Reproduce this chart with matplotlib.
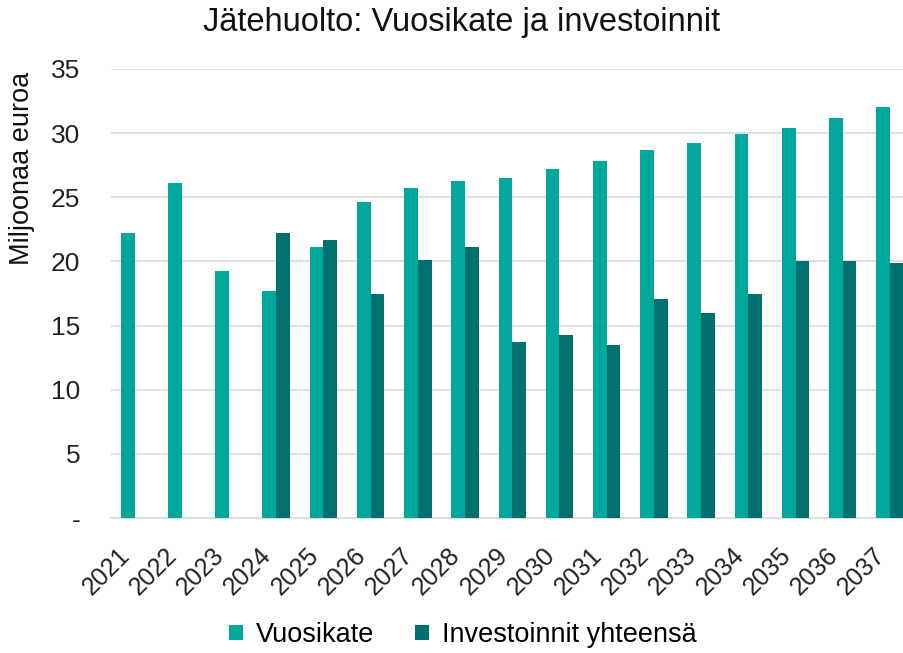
import numpy as np
import matplotlib
matplotlib.use('Agg')
from matplotlib import pyplot as plt

plt.rcParams['font.family'] = ['Liberation Sans', 'DejaVu Sans']

years = ['2021', '2022', '2023', '2024', '2025', '2026', '2027', '2028', '2029',
         '2030', '2031', '2032', '2033', '2034', '2035', '2036', '2037']
vuosikate = [22.2, 26.1, 19.25, 17.7, 21.1, 24.6, 25.7, 26.3, 26.5,
             27.2, 27.8, 28.7, 29.2, 29.9, 30.4, 31.2, 32.0]
investoinnit = [0, 0, 0, 22.2, 21.7, 17.5, 20.1, 21.1, 13.7,
                14.3, 13.5, 17.1, 16.0, 17.5, 20.0, 20.0, 19.9]
yticks = [0, 5, 10, 15, 20, 25, 30, 35]
ytick_labels = ['-', '5', '10', '15', '20', '25', '30', '35']

c_v = '#00A79D'
c_i = '#00716F'

fig = plt.figure(figsize=(9.04, 6.53), dpi=100)
# axes run a bit past the right edge, like the cropped original
ax = fig.add_axes([110.9/904, 135/653, 802.7/904, 449/653])

x = np.arange(len(years))
w = 0.29
ax.bar(x - w/2, vuosikate, w, color=c_v, label='Vuosikate', zorder=3)
ax.bar(x + w/2, investoinnit, w, color=c_i, label='Investoinnit yhteensä', zorder=3)

ax.set_xlim(-0.5, len(years) - 0.5)
ax.set_ylim(0, 35)
ax.set_yticks(yticks)
ax.set_yticklabels(ytick_labels, fontsize=19, color='#222222')
# ticks nudged left so rotated year labels end under the bar pair
ax.set_xticks(x - 0.36)
ax.set_xticklabels(years, fontsize=18, rotation=45, ha='right', va='top',
                   rotation_mode='anchor', color='#222222')
ax.tick_params(axis='both', length=0)
ax.tick_params(axis='y', pad=22)
ax.tick_params(axis='x', pad=18)
ax.grid(axis='y', color='#D9D9D9', linewidth=1.2, zorder=0)
for s in ['top', 'right', 'left']:
    ax.spines[s].set_visible(False)
ax.spines['bottom'].set_color('#D9D9D9')
ax.spines['bottom'].set_linewidth(1.2)

fig.text(462/904, 1 - 22/653, 'Jätehuolto: Vuosikate ja investoinnit',
         ha='center', va='center', fontsize=23.5, color='#111111')
fig.text(22/904, 1 - 168/653, 'Miljoonaa euroa', rotation=90,
         ha='center', va='center', fontsize=19.5, color='#111111')

fig.legend(loc='center', bbox_to_anchor=(463/904, 1 - 635/653), ncol=2,
           frameon=False, fontsize=19.5, handlelength=0.5, handleheight=0.5,
           handletextpad=0.5, columnspacing=1.5)

fig.savefig('out.png', dpi=100)
